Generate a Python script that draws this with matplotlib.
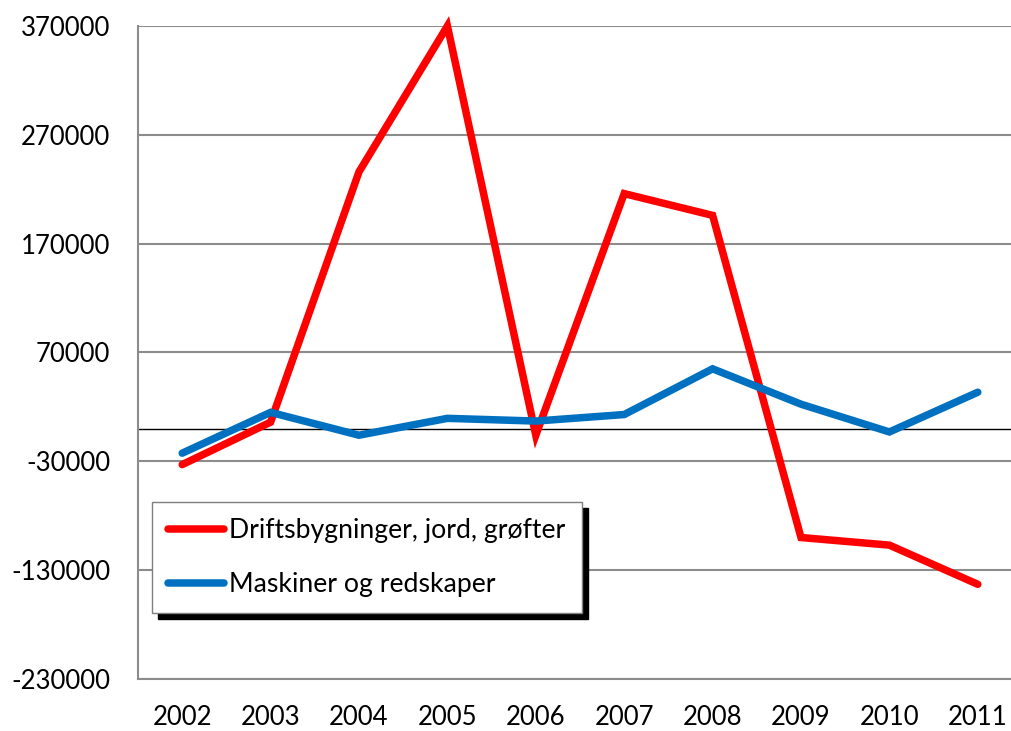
import matplotlib.pyplot as plt
from matplotlib.patches import Rectangle

years = ['2002', '2003', '2004', '2005', '2006', '2007', '2008', '2009', '2010', '2011']
drift = [-33000, 6000, 236000, 370000, -6000, 216000, 196000, -100000, -107000, -143000]
maskiner = [-22500, 15000, -6000, 9500, 7000, 13000, 55000, 22500, -3000, 33500]
yticks = [-230000, -130000, -30000, 70000, 170000, 270000, 370000]

plt.rcParams['font.family'] = ['Lato', 'DejaVu Sans']

fig = plt.figure(figsize=(10.12, 7.31), dpi=100)
ax = fig.add_axes([138 / 1012, 1 - 679 / 731, 884 / 1012, 653 / 731])

x = list(range(len(years)))
ax.plot(x, drift, color='#ff0000', lw=5.4, solid_capstyle='round', solid_joinstyle='miter',
        label='Driftsbygninger, jord, grøfter', zorder=3, clip_on=False)
ax.plot(x, maskiner, color='#0070c0', lw=5.4, solid_capstyle='round', solid_joinstyle='miter',
        label='Maskiner og redskaper', zorder=3, clip_on=False)

ax.axhline(0, color='black', lw=1, zorder=2)

ax.set_xlim(-0.5, 9.5)
ax.set_ylim(-230000, 370000)
ax.set_yticks(yticks)
ax.set_yticklabels([str(v) for v in yticks])
ax.set_xticks(x)
ax.set_xticklabels(years)
ax.grid(axis='y', color='#8c8c8c', lw=1.5, zorder=1)
ax.tick_params(length=0, labelsize=18.5, colors='black')
ax.tick_params(axis='y', pad=20)
ax.tick_params(axis='x', pad=19)

for s in ['top', 'right']:
    ax.spines[s].set_visible(False)
for s in ['left', 'bottom']:
    ax.spines[s].set_color('#8c8c8c')
    ax.spines[s].set_linewidth(1.5)

leg = ax.legend(loc='upper left', bbox_to_anchor=(152 / 1012, 1 - 502 / 731),
                bbox_transform=fig.transFigure, fontsize=19.2, frameon=True,
                fancybox=False, framealpha=1, handlelength=2.1, handletextpad=0.2,
                labelspacing=1.1, borderpad=0.6, borderaxespad=0)
leg.get_frame().set_edgecolor('#7f7f7f')
leg.get_frame().set_linewidth(1)
leg.set_zorder(6)

fig.canvas.draw()
bb = leg.get_window_extent()
inv = ax.transAxes.inverted()
(x0, y0), (x1, y1) = inv.transform([(bb.x0 + 6, bb.y0 - 6), (bb.x1 + 6, bb.y1 - 6)])
ax.add_patch(Rectangle((x0, y0), x1 - x0, y1 - y0, transform=ax.transAxes,
                       color='black', zorder=5.5, clip_on=False))

fig.savefig('out.png', dpi=100)
